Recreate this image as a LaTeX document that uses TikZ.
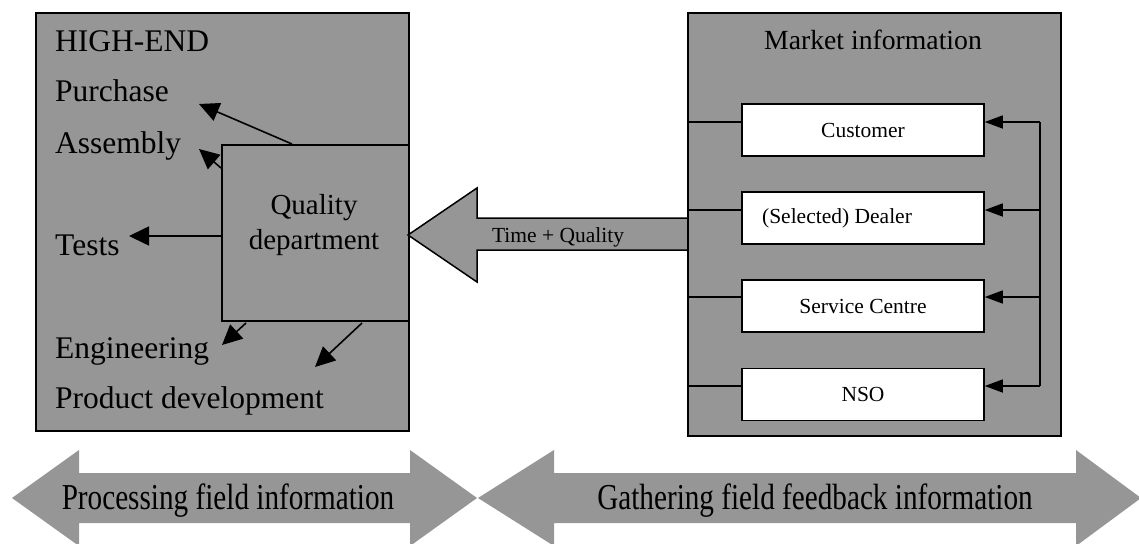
\documentclass[tikz,border=0pt]{standalone}
\usepackage{fontspec}
\setmainfont{Liberation Serif}
\usetikzlibrary{arrows.meta}
\definecolor{panel}{RGB}{150,150,150}
\begin{document}
\begin{tikzpicture}[x=1pt,y=-1pt,
  panelbox/.style={draw=black,line width=1.8pt,fill=panel,inner sep=0pt,anchor=north west},
  whitebox/.style={draw=black,line width=1.5pt,fill=white,minimum width=242pt,minimum height=52pt,inner sep=0pt,font=\fontsize{21.5}{24}\selectfont},
  lbl/.style={anchor=base west,inner sep=0pt,font=\fontsize{31.5}{36}\selectfont},
  arr/.style={line width=1.6pt,-{Triangle[length=20pt,width=19pt]}},
  feedarr/.style={line width=1.4pt,-{Triangle[length=18pt,width=13pt]}},
  conn/.style={line width=1.3pt},
  bandtext/.style={anchor=base,inner sep=0pt,font=\fontsize{29.2}{32}\selectfont}]
\useasboundingbox (0,0) rectangle (1139,543);

% left panel
\node[panelbox,minimum width=373pt,minimum height=418pt] (he) at (35,12) {};
\node[lbl] (hiend) at (55,52) {HIGH-END};
\node[lbl] (purch) at (55,101) {Purchase};
\node[lbl] (assem) at (55,153) {Assembly};
\node[lbl] (tests) at (55,255) {Tests};
\node[lbl] (engin) at (55,358) {Engineering};
\node[lbl] (prod) at (55,408) {Product development};

% quality department
\node[panelbox,minimum width=187pt,minimum height=176pt] (qd) at (221,144) {};
\node[align=center,inner sep=0pt,font=\fontsize{29}{35}\selectfont] (qdt) at (314,225) {Quality\\department};

\coordinate (pA) at (199,104);
\coordinate (aA) at (199,149);
\coordinate (tA) at (129,236);
\coordinate (eA) at (222,345);
\coordinate (dA) at (315,367);
\draw[arr] (qd.north -| 292,0) -- (pA);
\draw[arr] (qd.west |- 0,168) -- (aA);
\draw[arr] (qd.west |- 0,236) -- (tA);
\draw[arr] (246,323) coordinate (eS) -- (eA);
\draw[arr] (362,323) coordinate (dS) -- (dA);

% Time + Quality arrow
\draw[fill=panel,line width=1.5pt,line join=miter] (408,235) -- (477,188) -- (477,218) -- (689,218) -- (689,250) -- (477,250) -- (477,282) -- cycle;
\node[inner sep=0pt,anchor=base,font=\fontsize{21.5}{24}\selectfont] (tq) at (558,242) {Time + Quality};

% market panel
\node[panelbox,minimum width=373pt,minimum height=423pt] (mk) at (687,12) {};
\node[anchor=base,inner sep=0pt,font=\fontsize{27.7}{30}\selectfont] (mkt) at (873,49) {Market information};

\node[whitebox] (cust) at (863,130) {Customer};
\node[whitebox] (deal) at (863,218) {(Selected) Dealer\hspace*{52pt}};
\node[whitebox] (serv) at (863,306) {Service Centre};
\node[whitebox] (nso) at (863,394.5) {NSO};

\coordinate (b1) at (1040,122);
\coordinate (b2) at (1040,210);
\coordinate (b3) at (1040,297);
\coordinate (b4) at (1040,386);
\draw[conn] (b1) -- (b4);
\foreach \b/\n in {b1/cust,b2/deal,b3/serv,b4/nso}{
  \draw[conn] (mk.west |- \b) -- (\n.west |- \b);
  \draw[feedarr] (\b) -- (\n.east |- \b);
}

% bottom bands
\fill[panel] (12,498) -- (79,450) -- (79,473) -- (410,473) -- (410,450) -- (477,498) -- (410,546) -- (410,523) -- (79,523) -- (79,546) -- cycle;
\fill[panel] (478,498) -- (554,450) -- (554,473) -- (1076,473) -- (1076,450) -- (1141,498) -- (1076,546) -- (1076,523) -- (554,523) -- (554,546) -- cycle;
\node[bandtext] (proc) at (228,509) {\scalebox{1}[1.25]{Processing field information}};
\node[bandtext] (gath) at (815,509) {\scalebox{1}[1.25]{Gathering field feedback information}};
\end{tikzpicture}
\end{document}
